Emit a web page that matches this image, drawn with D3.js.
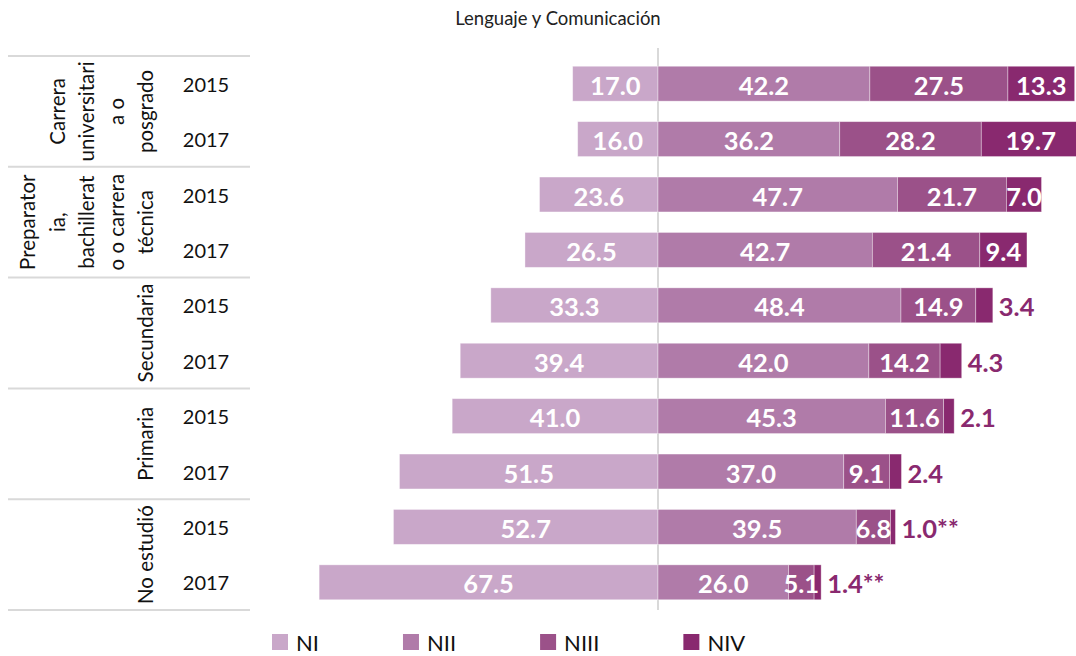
<!DOCTYPE html>
<meta charset="utf-8">
<style>
  body { margin: 0; background: #fff; }
  svg { display: block; font-family: Lato, "Open Sans", sans-serif; }
</style>
<svg></svg>
<script src="https://cdn.jsdelivr.net/npm/d3@7"></script>
<script>
// chart data
var title = "Lenguaje y Comunicación";
var groupLines = [
  ["Carrera", "universitari", "a o", "posgrado"],
  ["Preparator", "ia,", "bachillerat", "o o carrera", "técnica"],
  ["Secundaria"],
  ["Primaria"],
  ["No estudió"]
];
var years = ["2015", "2017"];
var levels = ["NI", "NII", "NIII", "NIV"];
var ni   = [17.0, 16.0, 23.6, 26.5, 33.3, 39.4, 41.0, 51.5, 52.7, 67.5];
var nii  = [42.2, 36.2, 47.7, 42.7, 48.4, 42.0, 45.3, 37.0, 39.5, 26.0];
var niii = [27.5, 28.2, 21.7, 21.4, 14.9, 14.2, 11.6, 9.1, 6.8, 5.1];
var niv  = [13.3, 19.7, 7.0, 9.4, 3.4, 4.3, 2.1, 2.4, 1.0, 1.4];
var nivNote = ["", "", "", "", "", "", "", "", "**", "**"];

var colors = ["#c9a7c9", "#b07ba9", "#9b5189", "#89296f"];

var W = 1076, H = 656;
var svg = d3.select("svg").attr("width", W).attr("height", H);

// one row per group x year
var rows = [];
groupLines.forEach(function(g, gi) {
  years.forEach(function(yr, yi) {
    rows.push({ group: gi, year: yr, i: gi * years.length + yi });
  });
});

var x = d3.scaleLinear().domain([-70, 85]).range([658 - 70 * 5.02, 658 + 85 * 5.02]);
var y = d3.scaleBand().domain(d3.range(rows.length)).range([56, 610])
    .paddingInner(0.37).paddingOuter(0.185);
var gap = (y.step() - y.bandwidth()) / 2;

// title
svg.append("text")
  .attr("x", 558).attr("y", 25)
  .attr("text-anchor", "middle")
  .style("font-size", "18.5px").attr("fill", "#222")
  .text(title);

// table separators on the left
var seps = d3.range(0, rows.length, years.length).map(function(i) { return y(i) - gap; });
seps.push(y.range()[1]);
svg.append("g").selectAll("line").data(seps).join("line")
  .attr("x1", 8).attr("x2", 250)
  .attr("y1", function(d) { return d; }).attr("y2", function(d) { return d; })
  .attr("stroke", "#d9d9d9").attr("stroke-width", 2);

// group labels, rotated, one line per text row
var gl = svg.append("g");
groupLines.forEach(function(lines, gi) {
  var cy = (y(gi * 2) + y(gi * 2 + 1) + y.bandwidth()) / 2;
  lines.forEach(function(t, li) {
    var cx = 145 - (lines.length - 1 - li) * 29.5;
    gl.append("text")
      .attr("transform", "translate(" + cx + "," + cy + ") rotate(-90)")
      .attr("text-anchor", "middle")
      .attr("dominant-baseline", "central")
      .style("font-size", "20.5px").attr("fill", "#111")
      .text(t);
  });
});

// year labels
svg.append("g").selectAll("text").data(rows).join("text")
  .attr("x", 206)
  .attr("y", function(d) { return y(d.i) + y.bandwidth() / 2; })
  .attr("text-anchor", "middle")
  .attr("dominant-baseline", "central")
  .style("font-size", "20px").attr("fill", "#111")
  .text(function(d) { return d.year; });

// centre line
svg.append("line")
  .attr("x1", x(0)).attr("x2", x(0))
  .attr("y1", 48).attr("y2", 610)
  .attr("stroke", "#d9d9d9").attr("stroke-width", 2);

// build segments
var segs = [];
rows.forEach(function(r) {
  var i = r.i;
  segs.push({ row: i, lev: 0, x0: -ni[i], x1: 0, v: ni[i], note: "" });
  var vals = [nii[i], niii[i], niv[i]], acc = 0;
  vals.forEach(function(v, k) {
    segs.push({ row: i, lev: k + 1, x0: acc, x1: acc + v, v: v, note: k === 2 ? nivNote[i] : "" });
    acc += v;
  });
});

svg.append("g").selectAll("rect").data(segs).join("rect")
  .attr("x", function(d) { return x(d.x0); })
  .attr("width", function(d) { return x(d.x1) - x(d.x0); })
  .attr("y", function(d) { return y(d.row); })
  .attr("height", y.bandwidth())
  .attr("fill", function(d) { return colors[d.lev]; })
  .attr("stroke", "rgba(255,255,255,0.45)").attr("stroke-width", 0.8);

// value labels: white inside, purple outside for small NIV
function inside(d) { return d.lev < 3 || d.v >= 7; }
svg.append("g").selectAll("text").data(segs).join("text")
  .attr("x", function(d) {
    return inside(d) ? (x(d.x0) + x(d.x1)) / 2 : x(d.x1) + 6;
  })
  .attr("y", function(d) { return y(d.row) + y.bandwidth() / 2 + 1; })
  .attr("text-anchor", function(d) { return inside(d) ? "middle" : "start"; })
  .attr("dominant-baseline", "central")
  .style("font-size", "25.5px").style("font-weight", "bold")
  .attr("fill", function(d) { return inside(d) ? "#fff" : colors[3]; })
  .text(function(d) { return d.v.toFixed(1) + d.note; });

// legend
var lg = svg.append("g");
var lx = 272;
levels.forEach(function(l, k) {
  lg.append("rect").attr("x", lx).attr("y", 634).attr("width", 16).attr("height", 16)
    .attr("fill", colors[k]);
  var t = lg.append("text").attr("x", lx + 24).attr("y", 642)
    .attr("dominant-baseline", "central")
    .style("font-size", "22px").attr("fill", "#111")
    .text(l);
  lx += 24 + t.node().getComputedTextLength() + 84;
});
</script>
